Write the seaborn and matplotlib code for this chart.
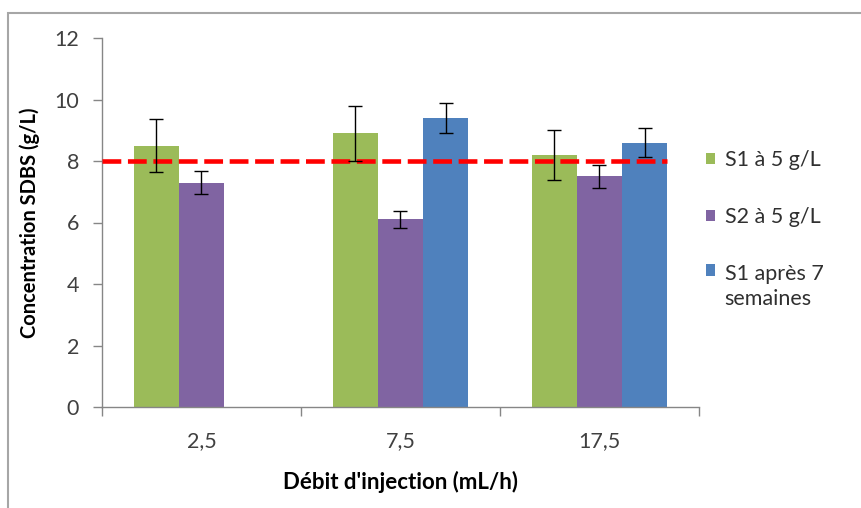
import pandas as pd
import seaborn as sns
import matplotlib.pyplot as plt
from matplotlib.patches import Rectangle, Patch

debits = ["2,5", "7,5", "17,5"]
series = ["S1 à 5 g/L", "S2 à 5 g/L", "S1 après 7\nsemaines"]
colors = ["#9BBB59", "#8064A2", "#4F81BD"]

# values per series (None = not measured)
s1_vals = [8.5, 8.9, 8.2]
s2_vals = [7.3, 6.1, 7.5]
s1_7w_vals = [None, 9.4, 8.6]

s1_err = [0.86, 0.90, 0.82]
s2_err = [0.37, 0.29, 0.37]
s1_7w_err = [None, 0.48, 0.46]

seuil = 8.0

rows = []
for serie, vals, errs in zip(series, [s1_vals, s2_vals, s1_7w_vals], [s1_err, s2_err, s1_7w_err]):
    for d, v, e in zip(debits, vals, errs):
        if v is not None:
            rows.append({"Debit": d, "Conc": v, "Err": e, "Serie": serie})
df = pd.DataFrame(rows)

sns.set_style("white")
plt.rcParams["font.family"] = ["Lato", "DejaVu Sans"]
fs = 15.5

fig = plt.figure(figsize=(8.62, 5.08), dpi=100)
ax = fig.add_axes([102 / 862, 1 - 407 / 508, 597 / 862, 369 / 508])

sns.barplot(data=df, x="Debit", y="Conc", hue="Serie", order=debits, hue_order=series,
            palette=colors, width=0.68, errorbar=None, linewidth=0, saturation=1,
            legend=False, ax=ax)

# error bars on each bar
for serie, cont in zip(series, ax.containers):
    sub = df[df["Serie"] == serie]
    for bar in cont:
        xc = bar.get_x() + bar.get_width() / 2
        idx = int(round(xc))
        r = sub[sub["Debit"] == debits[idx]]
        if len(r) == 0:
            continue
        ax.errorbar(xc, r["Conc"].iloc[0], yerr=r["Err"].iloc[0], fmt="none",
                    ecolor="black", elinewidth=1.0, capsize=4.7, capthick=1.0, zorder=4)

ax.hlines(seuil, -0.5, 2.34, colors="#FF0000", linewidth=3.3,
          linestyles=(0, (4.1, 1.45)), zorder=3)

ax.set_xlim(-0.5, 2.5)
ax.set_ylim(0, 12)
ax.set_yticks(range(0, 13, 2))
ax.set_xticks([-0.5, 0.5, 1.5, 2.5], minor=True)

gray = "#868686"
sns.despine(ax=ax)
for s in ["left", "bottom"]:
    ax.spines[s].set_color(gray)
    ax.spines[s].set_linewidth(1.0)
ax.tick_params(axis="y", which="major", length=6.5, width=1.0, color=gray, pad=10,
               labelsize=fs, labelcolor="#404040", left=True, direction="out")
ax.tick_params(axis="x", which="major", length=0, pad=17, labelsize=fs, labelcolor="#404040")
ax.tick_params(axis="x", which="minor", length=6.5, width=1.0, color=gray, bottom=True,
               direction="out")

ax.set_xlabel("Débit d'injection (mL/h)", fontsize=16, fontweight="bold", color="black")
ax.set_ylabel("Concentration SDBS (g/L)", fontsize=14.5, fontweight="bold", color="black")
ax.xaxis.set_label_coords(0.5, -0.172)
ax.yaxis.set_label_coords(-0.104, 0.5)

handles = [Patch(facecolor=c, edgecolor="none") for c in colors]
leg = fig.legend(handles, series, loc="upper left", bbox_to_anchor=(706 / 862, 1 - 150 / 508),
                 frameon=False, fontsize=fs, handlelength=0.42, handleheight=0.42,
                 handletextpad=0.45, labelspacing=1.72, borderpad=0, borderaxespad=0)
for t in leg.get_texts():
    t.set_linespacing(1.28)
    t.set_color("#303030")
# square of the two-line entry sits on its first line
h3 = leg.legend_handles[2]
h3.set_y(h3.get_y() + 12)

fig.add_artist(Rectangle((8 / 862, -0.1), 1.2, 1 - 13 / 508 + 0.1, transform=fig.transFigure,
                         fill=False, edgecolor="#A6A6A6", linewidth=1.5))

fig.savefig("out.png", dpi=100)
